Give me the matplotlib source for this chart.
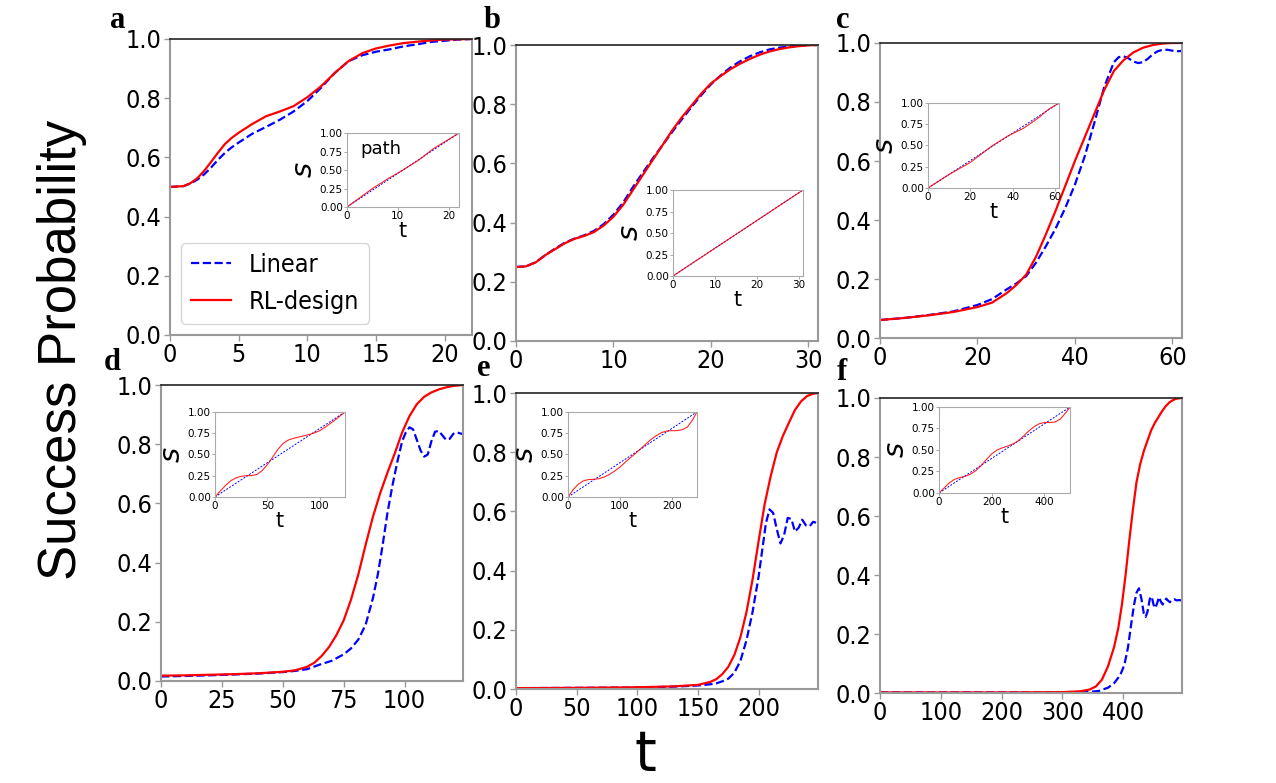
import numpy as np
import matplotlib
matplotlib.use("Agg")
from matplotlib import pyplot as plt

# ---- panel a (T = 22) ----
t_a = [0, 1, 1.5, 2, 2.5, 3, 3.5, 4, 4.5, 5, 6, 7, 8, 9, 10, 11, 12, 13, 14, 15, 16, 17, 18,
       19, 20, 21, 22]
lin_a = [0.5, 0.503, 0.512, 0.525, 0.543, 0.566, 0.592, 0.615, 0.634, 0.65, 0.68, 0.703,
         0.727, 0.755, 0.79, 0.835, 0.885, 0.925, 0.945, 0.957, 0.965, 0.975, 0.982, 0.99,
         0.994, 0.998, 1.0]
rl_a = [0.5, 0.503, 0.513, 0.53, 0.555, 0.585, 0.616, 0.645, 0.666, 0.683, 0.713, 0.739,
        0.755, 0.773, 0.803, 0.84, 0.885, 0.925, 0.952, 0.968, 0.978, 0.986, 0.991, 0.995,
        0.998, 0.999, 1.0]
st_a = [0, 2, 5, 8, 11, 14, 17, 20, 22]
s_a = [0, 0.1, 0.25, 0.38, 0.5, 0.63, 0.79, 0.915, 1.0]

# ---- panel b (T = 31) ----
t_b = list(range(0, 32))
rl_b = [0.25, 0.252, 0.265, 0.29, 0.31, 0.33, 0.345, 0.355, 0.368, 0.39, 0.42, 0.46, 0.51,
        0.56, 0.61, 0.66, 0.71, 0.755, 0.795, 0.835, 0.87, 0.895, 0.918, 0.937, 0.953,
        0.967, 0.978, 0.986, 0.992, 0.996, 0.999, 1.0]
lin_b = [0.25, 0.252, 0.266, 0.29, 0.312, 0.332, 0.346, 0.357, 0.372, 0.395, 0.427, 0.468,
         0.52, 0.568, 0.615, 0.66, 0.705, 0.748, 0.79, 0.83, 0.867, 0.897, 0.924, 0.945,
         0.962, 0.975, 0.985, 0.991, 0.995, 0.998, 1.0, 1.0]
st_b = [0, 31]
s_b = [0, 1.0]

# ---- panel c (T = 62) ----
t_c_rl = [0, 5, 10, 15, 20, 23, 26, 28, 30, 32, 34, 36, 38, 40, 42, 44, 46, 48, 50, 52, 54,
          56, 58, 60, 62]
rl_c = [0.061, 0.068, 0.077, 0.088, 0.105, 0.12, 0.152, 0.18, 0.215, 0.275, 0.35, 0.43,
        0.515, 0.6, 0.68, 0.76, 0.84, 0.905, 0.942, 0.968, 0.984, 0.993, 0.998, 1.0, 1.0]
t_c_lin = [0, 5, 10, 15, 20, 23, 26, 28, 30, 32, 34, 36, 38, 40, 42, 44, 46, 48, 49, 50, 51,
           52, 53, 54, 55, 56, 57, 58, 59, 60, 61, 62]
lin_c = [0.061, 0.068, 0.078, 0.09, 0.112, 0.132, 0.165, 0.185, 0.21, 0.255, 0.31, 0.37,
         0.44, 0.52, 0.615, 0.73, 0.85, 0.935, 0.952, 0.955, 0.948, 0.937, 0.932, 0.935,
         0.947, 0.962, 0.972, 0.977, 0.977, 0.974, 0.972, 0.973]
st_c = [0, 10, 20, 30, 38, 45, 52, 57, 62]
s_c = [0, 0.16, 0.30, 0.49, 0.615, 0.70, 0.82, 0.925, 1.0]

# ---- panel d (T = 124) ----
t_d_rl = [0, 10, 20, 30, 40, 50, 55, 60, 63, 66, 69, 72, 75, 78, 81, 84, 87, 90, 93, 96, 99,
          102, 105, 108, 111, 114, 117, 120, 124]
rl_d = [0.018, 0.019, 0.021, 0.023, 0.026, 0.031, 0.036, 0.048, 0.062, 0.085, 0.115, 0.155,
        0.205, 0.275, 0.36, 0.46, 0.555, 0.635, 0.705, 0.77, 0.84, 0.895, 0.935, 0.96, 0.975,
        0.985, 0.992, 0.997, 1.0]
t_d_lin = [0, 10, 20, 30, 40, 50, 55, 60, 65, 70, 75, 78, 81, 84, 87, 89, 91, 93, 95, 97, 99,
           100.5, 102, 103.5, 105, 106.5, 108, 109.5, 111, 112.5, 114, 115.5, 117, 118.5, 120,
           121.5, 123, 124]
lin_d = [0.015, 0.017, 0.019, 0.022, 0.025, 0.03, 0.034, 0.04, 0.055, 0.068, 0.09, 0.11, 0.14,
         0.19, 0.28, 0.36, 0.46, 0.57, 0.66, 0.74, 0.81, 0.84, 0.857, 0.85, 0.815, 0.78,
         0.758, 0.765, 0.81, 0.842, 0.845, 0.83, 0.815, 0.818, 0.835, 0.84, 0.836, 0.834]
st_d = [0, 5, 10, 15, 20, 25, 30, 35, 40, 45, 50, 55, 60, 65, 70, 75, 80, 85, 90, 95, 100,
        105, 110, 115, 120, 124]
s_d = [0, 0.07, 0.135, 0.19, 0.225, 0.243, 0.25, 0.252, 0.265, 0.31, 0.38, 0.47, 0.56, 0.63,
       0.67, 0.69, 0.705, 0.72, 0.735, 0.755, 0.78, 0.82, 0.865, 0.91, 0.96, 1.0]

# ---- panel e (T = 249) ----
t_e_rl = [0, 50, 100, 130, 150, 160, 165, 170, 175, 180, 185, 190, 195, 200, 205, 210, 215,
          220, 225, 230, 235, 240, 245, 249]
rl_e = [0.003, 0.004, 0.006, 0.009, 0.014, 0.024, 0.033, 0.05, 0.075, 0.115, 0.175, 0.26,
        0.37, 0.5, 0.625, 0.72, 0.8, 0.855, 0.9, 0.943, 0.972, 0.99, 0.998, 1.0]
t_e_lin = [0, 50, 100, 130, 150, 160, 165, 170, 175, 180, 185, 190, 195, 200, 203, 206, 209,
           212, 215, 218, 221, 224, 227, 230, 233, 236, 239, 242, 245, 249]
lin_e = [0.003, 0.004, 0.005, 0.008, 0.012, 0.016, 0.019, 0.026, 0.035, 0.055, 0.095, 0.165,
         0.26, 0.38, 0.47, 0.56, 0.607, 0.595, 0.54, 0.492, 0.52, 0.578, 0.575, 0.532, 0.545,
         0.572, 0.553, 0.55, 0.565, 0.56]
st_e = [0, 10, 20, 30, 40, 50, 60, 70, 80, 90, 100, 110, 120, 130, 140, 150, 160, 170, 180,
        190, 200, 210, 220, 230, 240, 249]
s_e = [0, 0.085, 0.15, 0.19, 0.205, 0.208, 0.215, 0.235, 0.265, 0.305, 0.35, 0.405, 0.46,
       0.51, 0.565, 0.62, 0.675, 0.72, 0.755, 0.775, 0.78, 0.78, 0.79, 0.82, 0.9, 1.0]

# ---- panel f (T = 497) ----
t_f_rl = [0, 100, 200, 300, 330, 345, 355, 365, 375, 385, 392, 398, 404, 410, 416, 422, 428,
          434, 440, 446, 452, 458, 464, 470, 476, 482, 488, 497]
rl_f = [0.002, 0.002, 0.002, 0.003, 0.006, 0.012, 0.022, 0.045, 0.09, 0.155, 0.22, 0.3, 0.4,
        0.515, 0.62, 0.715, 0.775, 0.82, 0.855, 0.89, 0.915, 0.935, 0.955, 0.972, 0.985,
        0.993, 0.998, 1.0]
t_f_lin = [0, 100, 200, 300, 340, 360, 375, 385, 395, 402, 408, 413, 418, 422, 426, 430, 434,
           437, 440, 444, 447, 450, 453, 456, 459, 462, 465, 468, 471, 474, 477, 480, 484, 488,
           492, 497]
lin_f = [0.002, 0.002, 0.002, 0.002, 0.003, 0.007, 0.018, 0.033, 0.06, 0.095, 0.155, 0.23,
         0.3, 0.34, 0.355, 0.32, 0.27, 0.258, 0.275, 0.32, 0.327, 0.3, 0.288, 0.305, 0.325,
         0.31, 0.3, 0.31, 0.32, 0.313, 0.308, 0.315, 0.318, 0.314, 0.315, 0.314]
st_f = [0, 20, 40, 60, 80, 100, 120, 140, 160, 180, 200, 220, 240, 260, 280, 300, 320, 340,
        360, 380, 400, 420, 440, 460, 480, 497]
s_f = [0, 0.06, 0.12, 0.16, 0.18, 0.195, 0.22, 0.26, 0.32, 0.39, 0.455, 0.5, 0.525, 0.545,
       0.57, 0.605, 0.66, 0.72, 0.77, 0.805, 0.82, 0.82, 0.825, 0.86, 0.93, 1.0]

panels = [
    # letter, T, main rect, inset rect, xticks, inset xticks, letter pos
    dict(key="a", T=22, t_lin=t_a, lin=lin_a, t_rl=t_a, rl=rl_a, st=st_a, s=s_a,
         rect=[0.1332, 0.5722, 0.2367, 0.378], irect=[0.2719, 0.7356, 0.0878, 0.0945],
         xt=[0, 5, 10, 15, 20], ixt=[0, 10, 20], lpos=(118, 20)),
    dict(key="b", T=31, t_lin=t_b, lin=lin_b, t_rl=t_b, rl=rl_b, st=st_b, s=s_b,
         rect=[0.4044, 0.5645, 0.2367, 0.378], irect=[0.5274, 0.6475, 0.1019, 0.1098],
         xt=[0, 10, 20, 30], ixt=[0, 10, 20, 30], lpos=(492, 20)),
    dict(key="c", T=62, t_lin=t_c_lin, lin=lin_c, t_rl=t_c_rl, rl=rl_c, st=st_c, s=s_c,
         rect=[0.6897, 0.5683, 0.2367, 0.3768], irect=[0.7273, 0.7599, 0.1027, 0.1086],
         xt=[0, 20, 40, 60], ixt=[0, 20, 40, 60], lpos=(843, 20)),
    dict(key="d", T=124, t_lin=t_d_lin, lin=lin_d, t_rl=t_d_rl, rl=rl_d, st=st_d, s=s_d,
         rect=[0.1262, 0.1303, 0.2367, 0.378], irect=[0.1685, 0.3653, 0.1019, 0.1086],
         xt=[0, 25, 50, 75, 100], ixt=[0, 50, 100], lpos=(112, 362)),
    dict(key="e", T=249, t_lin=t_e_lin, lin=lin_e, t_rl=t_e_rl, rl=rl_e, st=st_e, s=s_e,
         rect=[0.4044, 0.1200, 0.2367, 0.378], irect=[0.4451, 0.3653, 0.1011, 0.1086],
         xt=[0, 50, 100, 150, 200], ixt=[0, 100, 200], lpos=(484, 368)),
    dict(key="f", T=497, t_lin=t_f_lin, lin=lin_f, t_rl=t_f_rl, rl=rl_f, st=st_f, s=s_f,
         rect=[0.6897, 0.1149, 0.2367, 0.3768], irect=[0.7359, 0.3704, 0.1027, 0.1098],
         xt=[0, 100, 200, 300, 400], ixt=[0, 200, 400], lpos=(842, 372)),
]

W, H = 1276, 783
fig = plt.figure(figsize=(W / 100, H / 100), dpi=100)

tick_font = dict(family="DejaVu Sans", stretch="condensed", size=18)
gray = "#999999"

for p in panels:
    ax = fig.add_axes(p["rect"])
    ax.plot(p["t_lin"], p["lin"], color="b", ls="--", lw=1.6, label="Linear")
    ax.plot(p["t_rl"], p["rl"], color="r", lw=1.6, label="RL-design")
    ax.set_xlim(0, p["T"])
    ax.set_ylim(0, 1.0)
    ax.set_xticks(p["xt"])
    ax.set_yticks([0, 0.2, 0.4, 0.6, 0.8, 1.0])
    ax.set_xticklabels([str(v) for v in p["xt"]], fontdict=tick_font)
    ax.set_yticklabels(["0.0", "0.2", "0.4", "0.6", "0.8", "1.0"], fontdict=tick_font)
    ax.tick_params(length=4, width=1, color=gray, pad=2)
    for side in ["left", "bottom", "right"]:
        ax.spines[side].set_color(gray)
        ax.spines[side].set_linewidth(1.5)
    ax.spines["top"].set_color("#222222")
    ax.spines["top"].set_linewidth(1.2)

    if p["key"] == "a":
        ax.legend(loc="lower left", handlelength=1.6, handletextpad=0.7, borderaxespad=0.45,
                  prop=dict(family="DejaVu Sans", stretch="condensed", size=18))

    ins = fig.add_axes(p["irect"])
    ins.plot([0, p["T"]], [0, 1], color="b", ls="--", lw=0.7, dashes=(2, 1.5))
    ins.plot(p["st"], p["s"], color="r", lw=0.8, alpha=0.85)
    ins.set_xlim(0, p["T"])
    ins.set_ylim(0, 1.0)
    ins.set_xticks(p["ixt"])
    ins.set_yticks([0, 0.25, 0.5, 0.75, 1.0])
    ins.set_yticklabels(["0.00", "0.25", "0.50", "0.75", "1.00"])
    ins.tick_params(labelsize=7.5, length=2, width=0.6, color=gray, pad=1)
    for sp in ins.spines.values():
        sp.set_color("#aaaaaa")
        sp.set_linewidth(0.8)
    ins.set_xlabel("t", fontsize=15, labelpad=0)
    ins.set_ylabel("$s$", fontsize=21, labelpad=1)
    if p["key"] == "a":
        ins.text(0.12, 0.72, "path", transform=ins.transAxes, fontsize=13)

    fig.text(p["lpos"][0] / W, 1 - p["lpos"][1] / H, p["key"], fontsize=22,
             fontweight="bold", family="Liberation Serif", ha="center", va="center")

fig.text(62 / W, 1 - 350 / H, "Success Probability", rotation=90, fontsize=38,
         family="Liberation Sans", ha="center", va="center")
fig.text(645 / W, 1 - 755 / H, "t", fontsize=40, family="DejaVu Sans",
         ha="center", va="center")

fig.savefig("out.png", dpi=100)
